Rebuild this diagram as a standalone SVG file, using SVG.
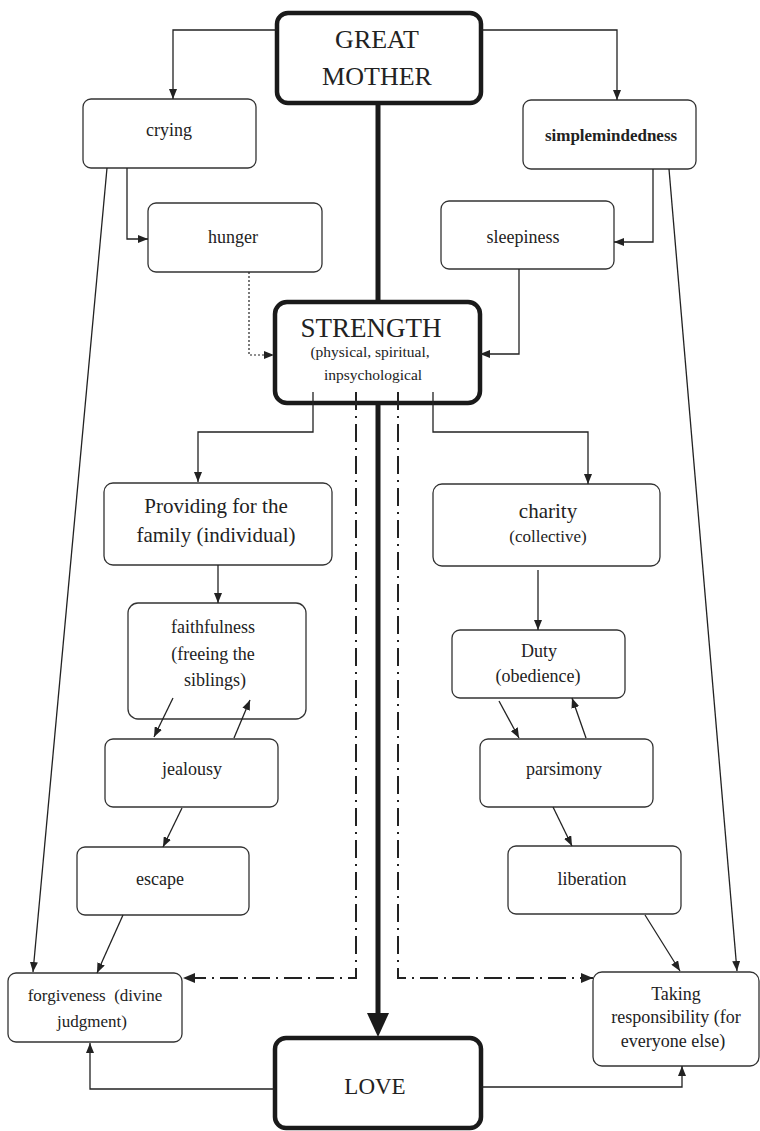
<svg xmlns="http://www.w3.org/2000/svg" width="760" height="1131" viewBox="0 0 760 1131">
<style>
text{font-family:"Liberation Serif","Times New Roman",serif;fill:#222;text-anchor:middle}
.box{fill:#fff;stroke:#333;stroke-width:1.3}
.big{fill:#fff;stroke:#1a1a1a;stroke-width:4.5}
.c{fill:none;stroke:#222;stroke-width:1.3}
.dd{fill:none;stroke:#222;stroke-width:2;stroke-dasharray:18 6 2 6}
.dot{fill:none;stroke:#222;stroke-width:1.2;stroke-dasharray:2 2}
.thick{fill:none;stroke:#1a1a1a;stroke-width:5}
.t18{font-size:18px}
.t17{font-size:17px}
.t21{font-size:21px}
.t15{font-size:15.5px}
</style>
<defs>
<marker id="ar" markerUnits="userSpaceOnUse" viewBox="0 0 10 8" refX="10" refY="4" markerWidth="10" markerHeight="8" orient="auto">
<path d="M0,0 L10,4 L0,8 z" fill="#222"/>
</marker>
<marker id="arb" markerUnits="userSpaceOnUse" viewBox="0 0 12 10" refX="12" refY="5" markerWidth="12" markerHeight="10" orient="auto">
<path d="M0,0 L12,5 L0,10 z" fill="#222"/>
</marker>
</defs>
<g id="great-mother">
<rect class="big" x="277" y="13" width="204" height="90" rx="11"/>
<text x="377" y="48" font-size="26">GREAT</text>
<text x="377" y="85" font-size="26">MOTHER</text>
</g>
<g id="crying">
<rect class="box" x="83" y="99" width="173" height="69" rx="8"/>
<text class="t18" x="169" y="136">crying</text>
</g>
<g id="simplemindedness">
<rect class="box" x="523" y="100" width="173" height="69" rx="8"/>
<text class="t17" x="611" y="141" font-weight="bold">simplemindedness</text>
</g>
<g id="hunger">
<rect class="box" x="148" y="203" width="174" height="69" rx="8"/>
<text class="t18" x="233" y="243">hunger</text>
</g>
<g id="sleepiness">
<rect class="box" x="441" y="201" width="173" height="68" rx="8"/>
<text class="t18" x="523" y="243">sleepiness</text>
</g>
<g id="strength">
<rect class="big" x="275" y="302" width="205" height="101" rx="12"/>
<text x="371" y="337" font-size="27">STRENGTH</text>
<text class="t15" x="370" y="357">(physical, spiritual,</text>
<text class="t15" x="373" y="380">inpsychological</text>
</g>
<g id="providing">
<rect class="box" x="104" y="483" width="228" height="82" rx="9"/>
<text class="t21" x="216" y="513">Providing for the</text>
<text class="t21" x="216" y="542">family (individual)</text>
</g>
<g id="charity">
<rect class="box" x="433" y="484" width="227" height="82" rx="9"/>
<text class="t21" x="548" y="518">charity</text>
<text class="t17" x="548" y="542">(collective)</text>
</g>
<g id="faithfulness">
<rect class="box" x="128" y="603" width="178" height="116" rx="10"/>
<text class="t18" x="213" y="633">faithfulness</text>
<text class="t18" x="213" y="660">(freeing the</text>
<text class="t18" x="215" y="686">siblings)</text>
</g>
<g id="duty">
<rect class="box" x="452" y="630" width="173" height="68" rx="8"/>
<text class="t18" x="539" y="657">Duty</text>
<text class="t18" x="538" y="682">(obedience)</text>
</g>
<g id="jealousy">
<rect class="box" x="105" y="739" width="173" height="68" rx="8"/>
<text class="t18" x="192" y="775">jealousy</text>
</g>
<g id="parsimony">
<rect class="box" x="480" y="739" width="173" height="68" rx="8"/>
<text class="t18" x="564" y="775">parsimony</text>
</g>
<g id="escape">
<rect class="box" x="77" y="847" width="172" height="68" rx="8"/>
<text class="t18" x="160" y="885">escape</text>
</g>
<g id="liberation">
<rect class="box" x="508" y="846" width="173" height="68" rx="8"/>
<text class="t18" x="592" y="885">liberation</text>
</g>
<g id="forgiveness">
<rect class="box" x="8" y="973" width="174" height="69" rx="8"/>
<text class="t17" x="95" y="1001" xml:space="preserve">forgiveness  (divine</text>
<text class="t17" x="92" y="1027">judgment)</text>
</g>
<g id="taking-responsibility">
<rect class="box" x="593" y="972" width="166" height="94" rx="9"/>
<text class="t18" x="676" y="1000">Taking</text>
<text class="t18" x="676" y="1023">responsibility (for</text>
<text class="t18" x="673" y="1047">everyone else)</text>
</g>
<g id="love">
<rect class="big" x="275" y="1038" width="206" height="90" rx="11"/>
<text x="375" y="1094" font-size="23">LOVE</text>
</g>
<g id="connectors">
<path class="c" d="M277,30 H173 V99" marker-end="url(#ar)"/>
<path class="c" d="M481,30 H617 V100" marker-end="url(#ar)"/>
<path class="c" d="M127,168 V239 H148" marker-end="url(#ar)"/>
<path class="c" d="M107,168 L33,972" marker-end="url(#ar)"/>
<path class="c" d="M653,169 V242 H614" marker-end="url(#ar)"/>
<path class="c" d="M669,169 L737,971" marker-end="url(#ar)"/>
<path class="dot" d="M249,272 V355 H274" marker-end="url(#ar)"/>
<path class="c" d="M519,269 V354 H480" marker-end="url(#ar)"/>
<path class="thick" d="M378,105 V300"/>
<path class="thick" d="M378,405 V1016"/>
<polygon points="367,1013 389,1013 378,1037" fill="#1a1a1a"/>
<path class="c" d="M313,392 V432 H198 V482" marker-end="url(#ar)"/>
<path class="c" d="M433,392 V432 H588 V484" marker-end="url(#ar)"/>
<path class="dd" d="M356,392 V978 H183" marker-end="url(#arb)"/>
<path class="dd" d="M398,392 V978 H593" marker-end="url(#arb)"/>
<path class="c" d="M218,565 V603" marker-end="url(#ar)"/>
<path class="c" d="M173,698 L154,737" marker-end="url(#ar)"/>
<path class="c" d="M234,738 L250,700" marker-end="url(#ar)"/>
<path class="c" d="M182,808 L163,847" marker-end="url(#ar)"/>
<path class="c" d="M123,915 L97,973" marker-end="url(#ar)"/>
<path class="c" d="M538,570 V630" marker-end="url(#ar)"/>
<path class="c" d="M499,701 L519,738" marker-end="url(#ar)"/>
<path class="c" d="M586,738 L572,698" marker-end="url(#ar)"/>
<path class="c" d="M553,807 L572,846" marker-end="url(#ar)"/>
<path class="c" d="M645,915 L680,971" marker-end="url(#ar)"/>
<path class="c" d="M275,1089 H90 V1043" marker-end="url(#ar)"/>
<path class="c" d="M481,1087 H682 V1066" marker-end="url(#ar)"/>
</g>
</svg>
